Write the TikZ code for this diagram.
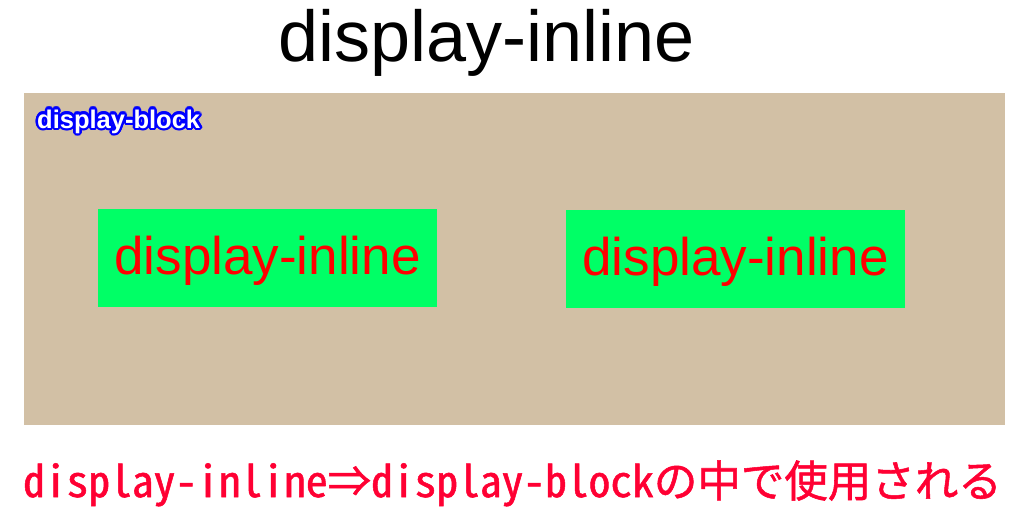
\documentclass[tikz,border=0pt]{standalone}
\usepackage{fontspec}
\setmainfont{Liberation Sans}
\newfontfamily\jpfont[CharacterWidth=Half, FakeBold=1.2]{Noto Sans CJK JP}
\usetikzlibrary{positioning}
\definecolor{blocktan}{RGB}{210,192,165}
\definecolor{inlinegreen}{RGB}{0,255,102}
\definecolor{notered}{RGB}{255,0,51}
\tikzset{
  inlinebox/.style={fill=inlinegreen, minimum width=339pt, minimum height=98pt, inner sep=0pt,
    text height=39pt, text depth=7pt, text=red, font=\fontsize{53}{53}\selectfont},
  blocklabel/.style={anchor=base west, inner sep=0pt, font=\fontsize{25.5}{26}\selectfont\bfseries}
}
\begin{document}
\begin{tikzpicture}[x=1pt, y=-1pt]
	\useasboundingbox (0,0) rectangle (1024,527);
	
	\node[anchor=base, inner sep=0pt, font=\fontsize{72}{72}\selectfont] (title) at (486.5,62) {display-inline};
	
	\node[fill=blocktan, minimum width=981pt, minimum height=332pt, inner sep=0pt] (block) at (514.5,259) {};
	\foreach \a in {0,22.5,...,337.5}
		\node[blocklabel, text=blue] at ({37+2.5*cos(\a)},{128+2.5*sin(\a)}) {display-block};
	\node[blocklabel, text=white] (blocklbl) at (37,128) {display-block};
	
	\node[inlinebox] (inlineA) at (267.5,258) {display-inline};
	\node[inlinebox] (inlineB) at (735.5,259) {display-inline};
	
	\node[anchor=base, inner sep=0pt, text=notered, font=\jpfont\fontsize{43.5}{44}\selectfont] (note) at (512.5,497) {display-inline⇒display-blockの中で使用される};
	
\end{tikzpicture}
\end{document}
